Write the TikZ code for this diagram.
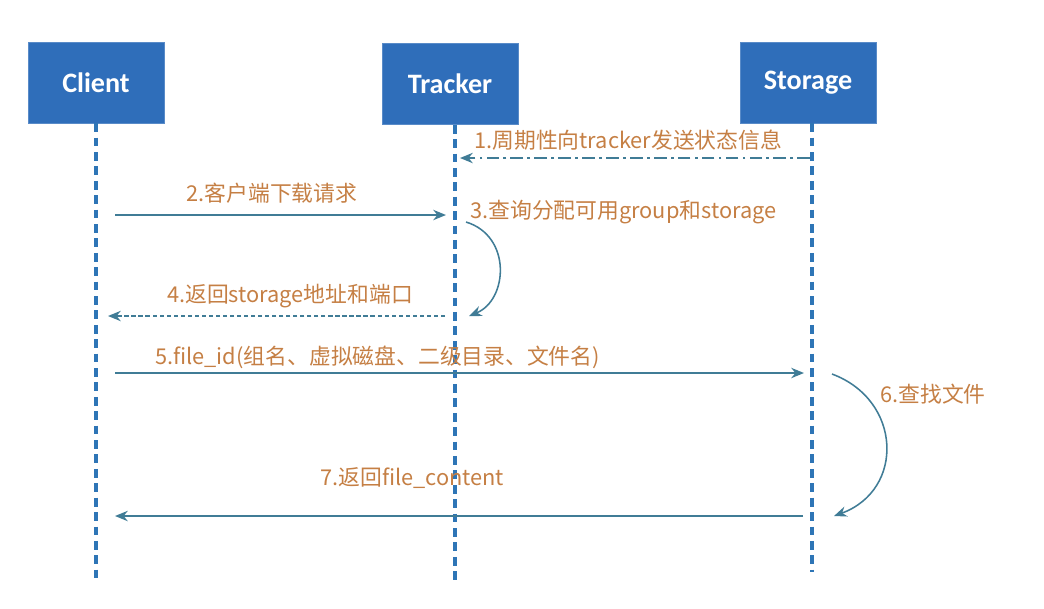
\documentclass[tikz,border=0pt]{standalone}
\usepackage{fontspec}
\setmainfont{Noto Sans CJK SC}
\newfontfamily\boxfont{Carlito}
\usepackage{tikz}
\usetikzlibrary{arrows.meta,positioning,calc}
\definecolor{boxblue}{RGB}{47,110,186}
\definecolor{lifeblue}{RGB}{46,117,182}
\definecolor{msgteal}{RGB}{64,124,150}
\definecolor{msgtext}{RGB}{197,127,68}
\tikzset{
  actor/.style={rectangle, draw=boxblue!80!white, fill=boxblue, text=white,
                minimum width=3.4cm, minimum height=2.02cm, inner sep=0pt,
                font=\boxfont\bfseries\fontsize{20}{23}\selectfont},
  life/.style={lifeblue, line width=2.8pt, dash pattern=on 0.22cm off 0.14cm},
  msg/.style={-{Stealth[length=3.2mm, width=2.6mm]}, msgteal, line width=1.1pt},
  lbl/.style={text=msgtext, font=\fontsize{15.5}{18}\selectfont, inner sep=0pt},
}
\begin{document}
\begin{tikzpicture}[x=0.025cm, y=-0.025cm]
\useasboundingbox (0,0) rectangle (1044,608);
% actors
\node[actor] (client) at (96,82.5) {Client};
\node[actor] (tracker) at (450,84) {Tracker};
\node[actor] (storage) at (808,82.5) {Storage};
% lifelines
\coordinate (clientend) at (96,578);
\coordinate (trackerend) at (455,580);
\coordinate (storageend) at (812,572);
\draw[life] (client.south) -- (clientend);
\draw[life] ($(tracker.south)+(5,0)$) coordinate (trackertop) -- (trackerend);
\draw[life] ($(storage.south)+(4,0)$) coordinate (storagetop) -- (storageend);
% message ends
\coordinate (m1s) at (810,158); \coordinate (m1e) at (460,158);
\coordinate (m2s) at (115,215); \coordinate (m2e) at (446,215);
\coordinate (m3s) at (466,222); \coordinate (m3e) at (469,316);
\coordinate (m4s) at (445,316); \coordinate (m4e) at (108,316);
\coordinate (m5s) at (115,373); \coordinate (m5e) at (804,373);
\coordinate (m6s) at (832,374); \coordinate (m6e) at (834,516);
\coordinate (m7s) at (803,516); \coordinate (m7e) at (115,516);
% messages
\draw[msg, dash pattern=on 9pt off 3pt on 2pt off 3pt] (m1s) -- (m1e);
\draw[msg] (m2s) -- (m2e);
\draw[msg] (m3s) .. controls (512,236) and (508,300) .. (m3e);
\draw[msg, dash pattern=on 3pt off 2pt] (m4s) -- (m4e);
\draw[msg] (m5s) -- (m5e);
\draw[msg] (m6s) .. controls (902,400) and (905,490) .. (m6e);
\draw[msg] (m7s) -- (m7e);
% labels
\node[lbl, anchor=west] (l1) at (474,140) {1.周期性向tracker发送状态信息};
\node[lbl] (l2) at (272,193) {2.客户端下载请求};
\node[lbl, anchor=west] (l3) at (470,212) {3.查询分配可用group和storage};
\node[lbl] (l4) at (290,296) {4.返回storage地址和端口};
\node[lbl, anchor=west] (l5) at (155,357) {5.file\_id(组名、虚拟磁盘、二级目录、文件名)};
\node[lbl, anchor=west] (l6) at (880,394) {6.查找文件};
\node[lbl, anchor=west] (l7) at (320,478) {7.返回file\_content};
\end{tikzpicture}
\end{document}
